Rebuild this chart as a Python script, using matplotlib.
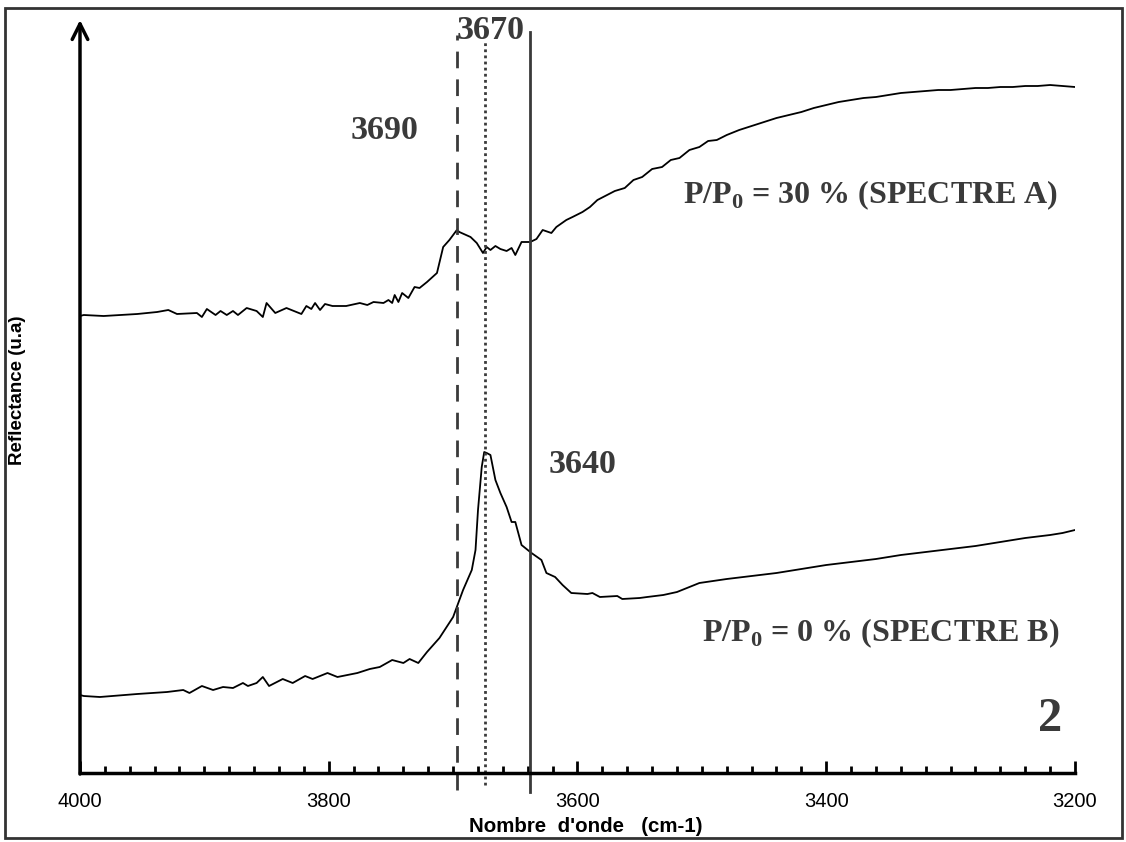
import matplotlib.pyplot as plt
from matplotlib.patches import Rectangle
import numpy as np

# spectrum A (P/P0 = 30 %), heights (a.u.)
wn_a = [4000, 3997, 3981, 3954, 3938, 3929, 3922, 3906, 3902, 3898,
        3891, 3887, 3882, 3877, 3873, 3866, 3858, 3853, 3850, 3843,
        3834, 3822, 3818, 3814, 3811, 3807, 3803, 3797, 3786, 3775,
        3769, 3764, 3756, 3752, 3749, 3747, 3744, 3741, 3736, 3731,
        3727, 3721, 3713, 3708, 3703, 3697, 3695, 3686, 3681, 3676,
        3673, 3670, 3666, 3662, 3657, 3653, 3650, 3645, 3638, 3633,
        3628, 3621, 3617, 3609, 3604, 3596, 3590, 3584,
        3570, 3562, 3555, 3548, 3540, 3532, 3525, 3518, 3510, 3502,
        3495, 3488, 3480, 3470, 3460, 3450, 3440, 3430, 3420, 3410,
        3400, 3390, 3380, 3370, 3360, 3350, 3340, 3330, 3320, 3310,
        3300, 3290, 3280, 3270, 3260, 3250, 3240, 3230, 3220, 3210,
        3200]
refl_a = [457, 458, 457, 459, 461, 463, 459, 460, 456, 464,
          458, 462, 458, 462, 458, 465, 462, 456, 470, 460,
          465, 459, 467, 464, 470, 463, 469, 467, 467, 470,
          468, 471, 470, 473, 470, 478, 471, 480, 475, 486,
          485, 491, 500, 526, 533, 543, 541, 536, 530, 520,
          526, 523, 527, 524, 522, 525, 518, 531, 531, 534,
          543, 540, 546, 553, 556, 561, 566, 573,
          582, 585, 593, 596, 604, 606, 613, 615, 623, 626,
          632, 633, 638, 643, 647, 651, 655, 658, 661, 665,
          668, 671, 673, 675, 676, 678, 680, 681, 682, 683,
          683, 684, 685, 685, 686, 686, 687, 687, 688, 687,
          686]

# spectrum B (P/P0 = 0 %)
wn_b = [4000, 3997, 3984, 3954, 3930, 3917, 3912, 3902, 3893, 3885,
        3877, 3869, 3865, 3858, 3853, 3848, 3837, 3829, 3819, 3813,
        3801, 3793, 3777, 3767, 3759, 3749, 3740, 3735, 3728, 3721,
        3711, 3700, 3692, 3685, 3682, 3680, 3677, 3675, 3673, 3670,
        3666, 3662, 3657, 3653, 3650, 3645, 3637, 3629, 3625, 3618,
        3612, 3605, 3592, 3588, 3582, 3568, 3564, 3550, 3544, 3531,
        3520, 3510, 3502, 3480, 3460, 3440, 3420, 3400, 3380, 3360,
        3340, 3320, 3300, 3280, 3260, 3240, 3220, 3210, 3200]
refl_b = [78, 77, 76, 79, 81, 83, 80, 87, 83, 86,
          85, 90, 87, 90, 96, 87, 94, 90, 97, 94,
          100, 96, 100, 104, 106, 113, 110, 114, 110, 121,
          135, 156, 183, 203, 223, 263, 306, 321, 320, 318,
          293, 280, 266, 251, 251, 228, 220, 213, 200, 196,
          188, 180, 179, 180, 176, 177, 174, 175, 176, 178,
          181, 186, 190, 194, 197, 200, 204, 208, 211, 214,
          218, 221, 224, 227, 231, 235, 238, 240, 243]

# marker lines
line_pos = [3697, 3674, 3638]
line_styles = ['--', ':', '-']
peak_labels = ['3690', '3670', '3640']

xticks = [4000, 3800, 3600, 3400, 3200]

GRAY = '#3a3a3a'
W, H = 1126, 842

plt.rcParams['mathtext.fontset'] = 'custom'
plt.rcParams['mathtext.rm'] = 'Liberation Serif:bold'
plt.rcParams['mathtext.bf'] = 'Liberation Serif:bold'

fig = plt.figure(figsize=(W / 100, H / 100), dpi=100)
ax = fig.add_axes([80 / W, 69 / H, 995 / W, 753 / H])

ax.plot(wn_a, refl_a, color='black', lw=1.3)
ax.plot(wn_b, refl_b, color='black', lw=1.3)

ax.set_xlim(4000, 3200)
ax.set_ylim(0, 753)

# vertical marker lines, going a bit under the axis
tops = [738, 733, 741]
bottoms = [-17, -12, -19]
for pos, ls, t, b in zip(line_pos, line_styles, tops, bottoms):
    kw = dict(color=GRAY, lw=2, clip_on=False)
    if ls == '--':
        kw['dashes'] = (6, 4)
    elif ls == ':':
        kw['dashes'] = (1, 1.2)
    ax.plot([pos, pos], [b, t], ls=ls, **kw)

serif = dict(family='Liberation Serif', weight='bold', color=GRAY)
ax.text(3755, 643, peak_labels[0], fontsize=24.5, ha='center', va='center', **serif)
ax.text(3670, 743, peak_labels[1], fontsize=24.5, ha='center', va='center', **serif)
ax.text(3596, 309, peak_labels[2], fontsize=24.5, ha='center', va='center', **serif)
ax.text(3515, 578, r'P/P$_{0}$ = 30 % (SPECTRE A)', fontsize=23,
        ha='left', va='center', **serif)
ax.text(3500, 140, r'P/P$_{0}$ = 0 % (SPECTRE B)', fontsize=23,
        ha='left', va='center', **serif)
ax.text(3220, 54, '2', fontsize=35, ha='center', va='center', **serif)

# axes styling
for side in ['top', 'right', 'left']:
    ax.spines[side].set_visible(False)
ax.spines['bottom'].set_linewidth(2.5)
ax.annotate('', xy=(4000, 753), xytext=(4000, -1),
            arrowprops=dict(arrowstyle='->', lw=2.5, color='black',
                            mutation_scale=28, shrinkA=0, shrinkB=0),
            annotation_clip=False)

ax.set_xticks(xticks)
ax.set_xticks(np.arange(3200, 4001, 20), minor=True)
ax.tick_params(axis='x', which='major', direction='in', length=9, width=2,
               pad=14, labelsize=14.5)
ax.tick_params(axis='x', which='minor', direction='in', length=5, width=2)
for lab in ax.get_xticklabels():
    lab.set_family('Liberation Sans')
ax.set_yticks([])

fig.text(586 / W, 1 - 826 / H, "Nombre  d'onde   (cm-1)",
         family='Liberation Sans', weight='bold', fontsize=14.8,
         ha='center', va='center')
fig.text(18 / W, 1 - 390 / H, 'Reflectance (u.a)', rotation=90,
         family='Liberation Sans', weight='bold', fontsize=13.5,
         ha='center', va='center')

# frame around the whole figure
fig.patches.append(Rectangle((5 / W, 4 / H), 1117 / W, 830 / H,
                             transform=fig.transFigure, fill=False,
                             edgecolor='#333333', lw=2))

fig.savefig('out.png', dpi=100)
